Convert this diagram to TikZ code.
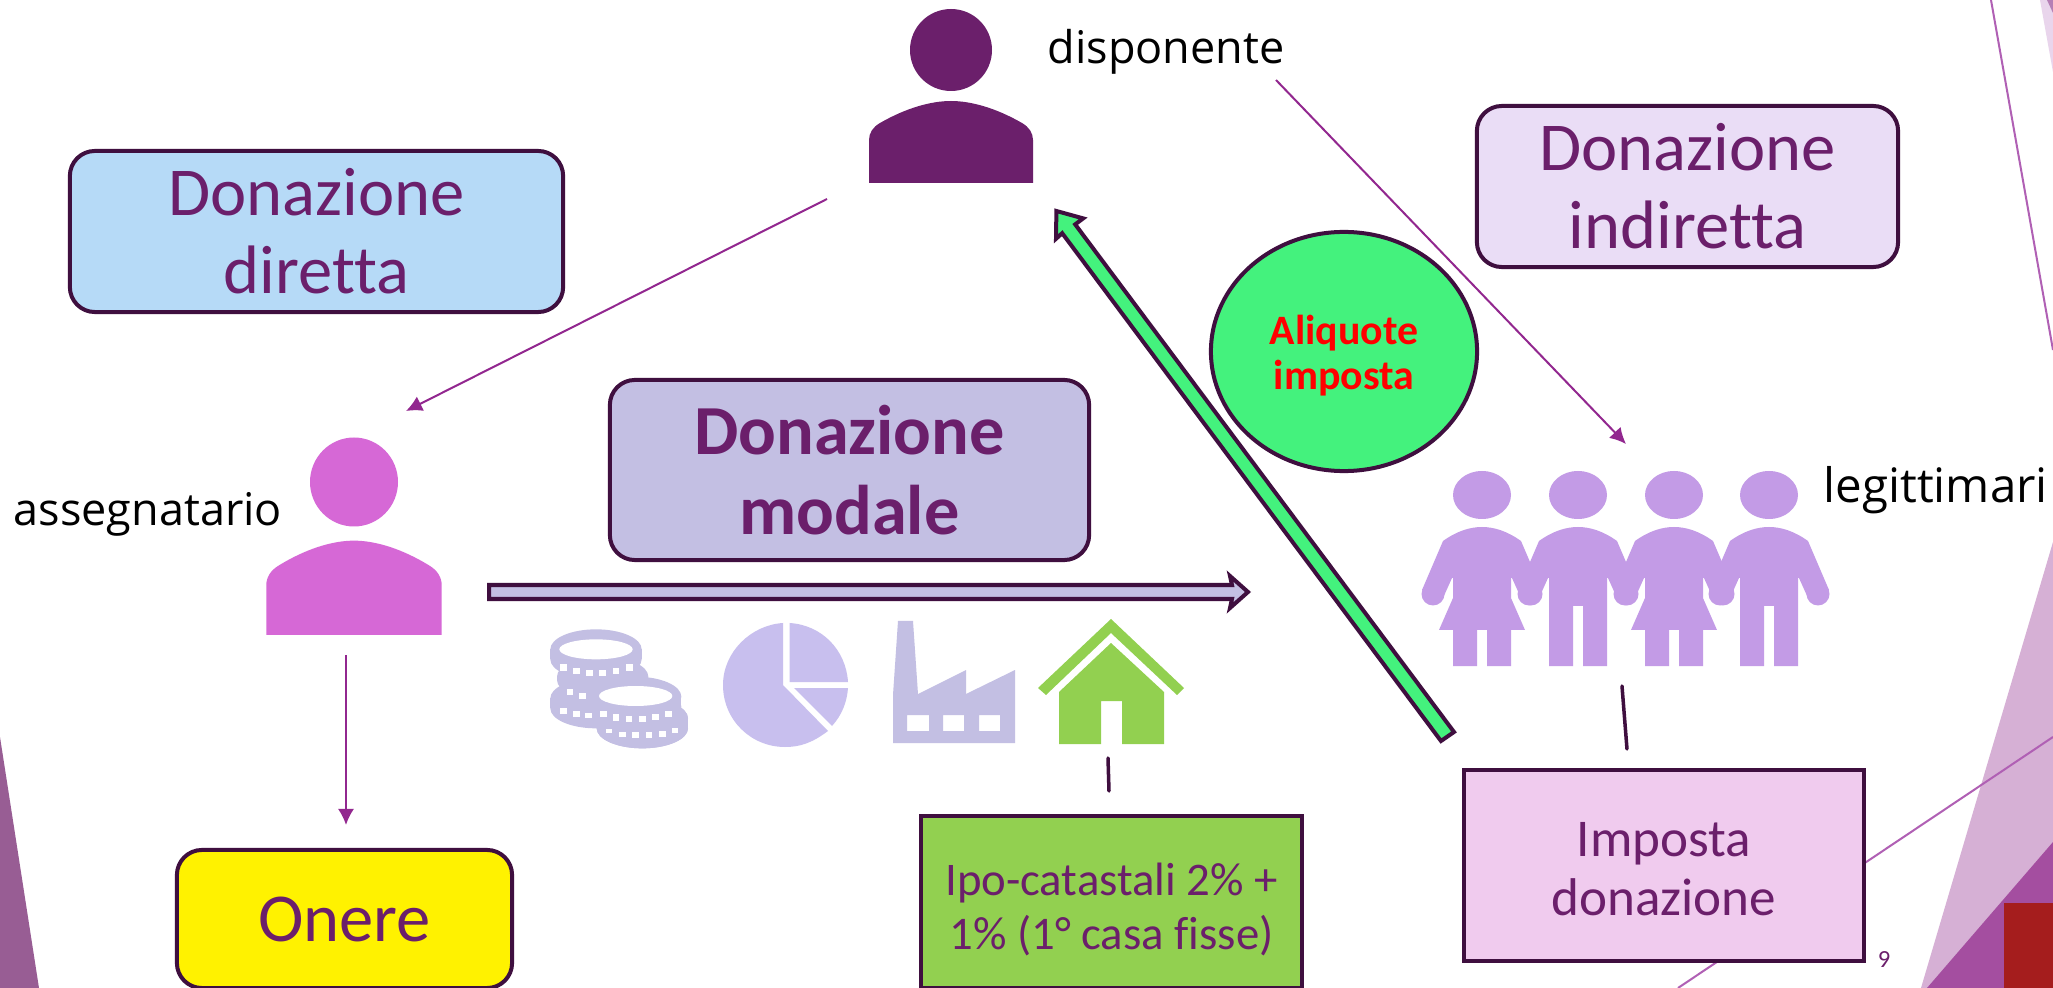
\documentclass[tikz,border=0pt]{standalone}
\usepackage{fontspec}
\setmainfont[Ligatures=NoCommon]{Carlito}
\newfontfamily\labelfont[Ligatures=NoCommon]{Open Sans}
\usetikzlibrary{arrows.meta,shapes.geometric}
\definecolor{txtpurple}{HTML}{6B1F6B}
\definecolor{edgedark}{HTML}{3F0F3F}
\definecolor{thinpurple}{HTML}{92278F}
\definecolor{bgline}{HTML}{B060B4}
\definecolor{lilac}{HTML}{C3BFE3}
\definecolor{pielilac}{HTML}{C8BFEE}
\definecolor{greenbox}{HTML}{92D050}
\definecolor{peoplecol}{HTML}{C39BE6}
\definecolor{cornerlight}{HTML}{E9D5EC}
\definecolor{cornermid}{HTML}{B57FB5}
\definecolor{bglight}{HTML}{D6B0D5}
\definecolor{bgmid}{HTML}{A44EA0}
\definecolor{bgred}{HTML}{A51D1D}
\definecolor{bgleft}{HTML}{985D94}
\definecolor{assegcol}{HTML}{D668D6}
\definecolor{bluebox}{HTML}{B6DAF7}
\definecolor{palebox}{HTML}{EADDF6}
\definecolor{pinkbox}{HTML}{F0CBEE}
\definecolor{greenarrow}{HTML}{44F27D}
\tikzset{
  x=0.01cm,y=-0.01cm,
  roundbox/.style={draw=edgedark,line width=0.04cm,rounded corners=0.25cm,align=center,text=txtpurple,inner sep=0pt,font=\fontsize{19.5}{22.2}\selectfont},
  squarebox/.style={draw=edgedark,line width=0.04cm,align=center,text=txtpurple,inner sep=0pt},
  blacklabel/.style={font=\labelfont\fontsize{12.8}{15}\selectfont,text=black,inner sep=0pt},
  thinarrow/.style={draw=thinpurple,line width=0.02cm,-{Latex[length=0.16cm,width=0.16cm]}},
  stub/.style={draw=edgedark,line width=0.035cm,line cap=round},
  blockedge/.style={draw=edgedark,line width=0.04cm,miter limit=10},
}
\newcommand{\bodypath}{(-82,133) -- (-82,90) .. controls (-82,83) and (-78,77) .. (-71,73) .. controls (-45,58) and (-20,51) .. (0,51) .. controls (20,51) and (45,58) .. (71,73) .. controls (78,77) and (82,83) .. (82,90) -- (82,133) -- cycle}
\newcommand{\armsfill}[1]{%
  \fill[#1] (-39,541) -- (-60,590) -- (-39,598) -- (-30,578) -- (30,578) -- (39,598) -- (60,590) -- (39,541) .. controls (25,531) and (12,527) .. (0,527) .. controls (-12,527) and (-25,531) .. (-39,541) -- cycle;
  \fill[#1] (-49,594) circle[radius=11.5];
  \fill[#1] (49,594) circle[radius=11.5];
  \fill[#1] (0,495) ellipse[x radius=29,y radius=24];
}
\newcommand{\womanfig}[2]{\begin{scope}[shift={(#1,0)}]
  \armsfill{#2}
  \fill[#2] (-29,570) -- (29,570) -- (29,598) -- (43,630) -- (29,630) -- (29,666) -- (5,666) -- (5,630) -- (-5,630) -- (-5,666) -- (-29,666) -- (-29,630) -- (-43,630) -- (-29,598) -- cycle;
\end{scope}}
\newcommand{\manfig}[2]{\begin{scope}[shift={(#1,0)}]
  \armsfill{#2}
  \fill[#2] (-29,570) -- (29,570) -- (29,666) -- (5,666) -- (5,606) -- (-5,606) -- (-5,666) -- (-29,666) -- cycle;
\end{scope}}
\newcommand{\coinshape}[3]{%
  \fill[lilac] (#1,#2) ellipse[x radius=137,y radius=60];
  \fill[lilac] (#1-137,#2) rectangle (#1+137,#2+#3);
  \fill[lilac] (#1,#2+#3) ellipse[x radius=137,y radius=60];
}
\begin{document}
\begin{tikzpicture}
\useasboundingbox (0,0) rectangle (2053,988);
\clip (0,0) rectangle (2053,988);
\fill[white] (0,0) rectangle (2053,988);
% background
\fill[cornerlight] (2040,0) -- (2053,0) -- (2053,72) -- cycle;
\fill[cornermid] (2047,0) -- (2053,0) -- (2053,13) -- cycle;
\draw[bgline,line width=0.02cm] (1991,0) -- (2053,350);
\fill[bglight] (2053,542) -- (1921,988) -- (2053,988) -- cycle;
\fill[bgmid] (2053,842) -- (1927,988) -- (2053,988) -- cycle;
\fill[bgred] (2004,903) rectangle (2053,988);
\draw[bgline,line width=0.02cm] (1678,988) -- (2053,737);
\fill[bgleft] (0,737) -- (39,988) -- (0,988) -- cycle;
% disponente
\begin{scope}[shift={(951,50)}]
  \fill[txtpurple] (0,0) circle[radius=41];
  \fill[txtpurple] \bodypath;
\end{scope}
% assegnatario
\begin{scope}[shift={(354,482)}]
  \fill[assegcol] (0,0) ellipse[x radius=44,y radius=44.5];
  \begin{scope}[xscale=1.07,yscale=1.15]
  \fill[assegcol] \bodypath;
  \end{scope}
\end{scope}
% people
\womanfig{1482}{peoplecol}
\manfig{1578}{peoplecol}
\womanfig{1674}{peoplecol}
\manfig{1769}{peoplecol}
% coins
\begin{scope}[shift={(535,615)},scale=0.33333]
  \coinshape{183}{250}{30}
  \coinshape{203}{185}{10}
  \coinshape{183}{103}{30}
  \coinshape{322}{310}{30}
  \fill[white] (183,103) ellipse[x radius=110,y radius=30];
  \foreach \zx/\zt/\zb in {85/148/168,124/158/178,163/165/183,203/165/183,243/160/178,283/148/168,
     105/222/240,143/235/253,85/278/296,124/288/306,160/293/310}{
    \fill[white] (\zx-10,\zt) rectangle (\zx+10,\zb);
  }
  \coinshape{302}{245}{30}
  \coinshape{322}{310}{30}
  \fill[white] (302,243) ellipse[x radius=110,y radius=30];
  \foreach \zx/\zt/\zb in {205/287/305,243/297/317,282/303/322,322/303/322,362/298/316,400/287/305,
     222/343/355,262/350/366,302/352/370,342/352/370,382/348/366,420/338/355}{
    \fill[white] (\zx-10,\zt) rectangle (\zx+10,\zb);
  }
\end{scope}
% pie
\fill[pielilac] (783,623) -- (783,685) -- (828,731) .. controls (812,743) and (800,747) .. (785,747) .. controls (751,747) and (723,720) .. (723,685) .. controls (723,652) and (751,625) .. (783,623) -- cycle;
\fill[pielilac] (789.5,623) .. controls (822,625) and (846,650) .. (848,682) -- (789.5,682) -- cycle;
\fill[pielilac] (794,688) -- (848,688) .. controls (847,702) and (842,715) .. (832,726) -- cycle;
% factory
\fill[lilac,even odd rule] (893,743) -- (893,695) -- (898,621) -- (913,621) -- (918,694) -- (966,670) -- (966,694) -- (1015,670) -- (1015,743) -- cycle
  (907,715) rectangle (929,731) (943,715) rectangle (964,731) (979,715) rectangle (1000,731);
% house
\fill[greenbox] (1111,619) -- (1184,688) -- (1177,695) -- (1111,633) -- (1046,695) -- (1038,688) -- cycle;
\fill[greenbox] (1111,643) -- (1164,692) -- (1164,744) -- (1122,744) -- (1122,701) -- (1101,701) -- (1101,744) -- (1059,744) -- (1059,692) -- cycle;
% nodes
\node[roundbox,fill=bluebox,minimum width=4.93cm,minimum height=1.61cm] (diretta) at (316.5,231.5) {Donazione\\diretta};
\node[roundbox,fill=palebox,minimum width=4.21cm,minimum height=1.61cm] (indiretta) at (1687.5,186.5) {Donazione\\indiretta};
\node[roundbox,fill=lilac,minimum width=4.79cm,minimum height=1.80cm,font=\bfseries\fontsize{20}{22.6}\selectfont] (modale) at (849.5,470) {Donazione\\modale};
\node[roundbox,fill=yellow,minimum width=3.35cm,minimum height=1.38cm,font=\fontsize{19.5}{21}\selectfont] (onere) at (344.5,919) {Onere};
\node[squarebox,fill=greenbox,minimum width=3.80cm,minimum height=1.72cm,font=\fontsize{13.3}{15.6}\selectfont] (ipo) at (1111.5,902) {\rule{0pt}{13.5pt}Ipo-catastali 2\% +\\1\% (1° casa fisse)};
\node[squarebox,fill=pinkbox,minimum width=4.00cm,minimum height=1.91cm,font=\fontsize{15.1}{16.8}\selectfont] (imposta) at (1664,865.5) {\rule{0pt}{12pt}Imposta\\donazione};
\node[draw=edgedark,line width=0.04cm,fill=greenarrow,ellipse,minimum width=2.66cm,minimum height=2.39cm,inner sep=0pt,align=center,text=red,font=\bfseries\fontsize{11.9}{12.7}\selectfont] (aliquote) at (1344,351.5) {\rule{0pt}{10.8pt}Aliquote\\imposta};
\node[blacklabel,anchor=base west] (disp) at (1047,64) {disponente};
\node[blacklabel,anchor=base west] (asseg) at (13,525) {assegnatario};
\node[blacklabel,anchor=base west,font=\labelfont\fontsize{13.5}{15}\selectfont] (legit) at (1823,502) {legittimari};
\node[text=txtpurple,font=\fontsize{7}{8}\selectfont,inner sep=0pt] (pagenum) at (1884,960) {9};
% connectors
\coordinate (a1) at (827,199); \coordinate (a2) at (406,411);
\coordinate (b1) at (1276,80); \coordinate (b2) at (1626,444);
\coordinate (c1) at (346,655); \coordinate (c2) at (346,825);
\coordinate (d1) at (1108,758); \coordinate (d2) at (1109,791);
\coordinate (e1) at (1622,686); \coordinate (e2) at (1627,749);
\draw[thinarrow] (a1) -- (a2);
\draw[thinarrow] (b1) -- (b2);
\draw[thinarrow] (c1) -- (c2);
\draw[stub] (d1) -- (d2);
\draw[stub] (e1) -- (e2);
% block arrows
\draw[blockedge,fill=lilac] (489,585) -- (1232,585) -- (1230,576) -- (1248,592) -- (1230,608) -- (1232,599) -- (489,599) -- cycle;
\draw[blockedge,fill=greenarrow] (1454,732) -- (1075.2,224.4) -- (1083.2,218.4) -- (1056.4,211) -- (1056,238.8) -- (1062.2,233.2) -- (1441,741) -- cycle;
\end{tikzpicture}
\end{document}
